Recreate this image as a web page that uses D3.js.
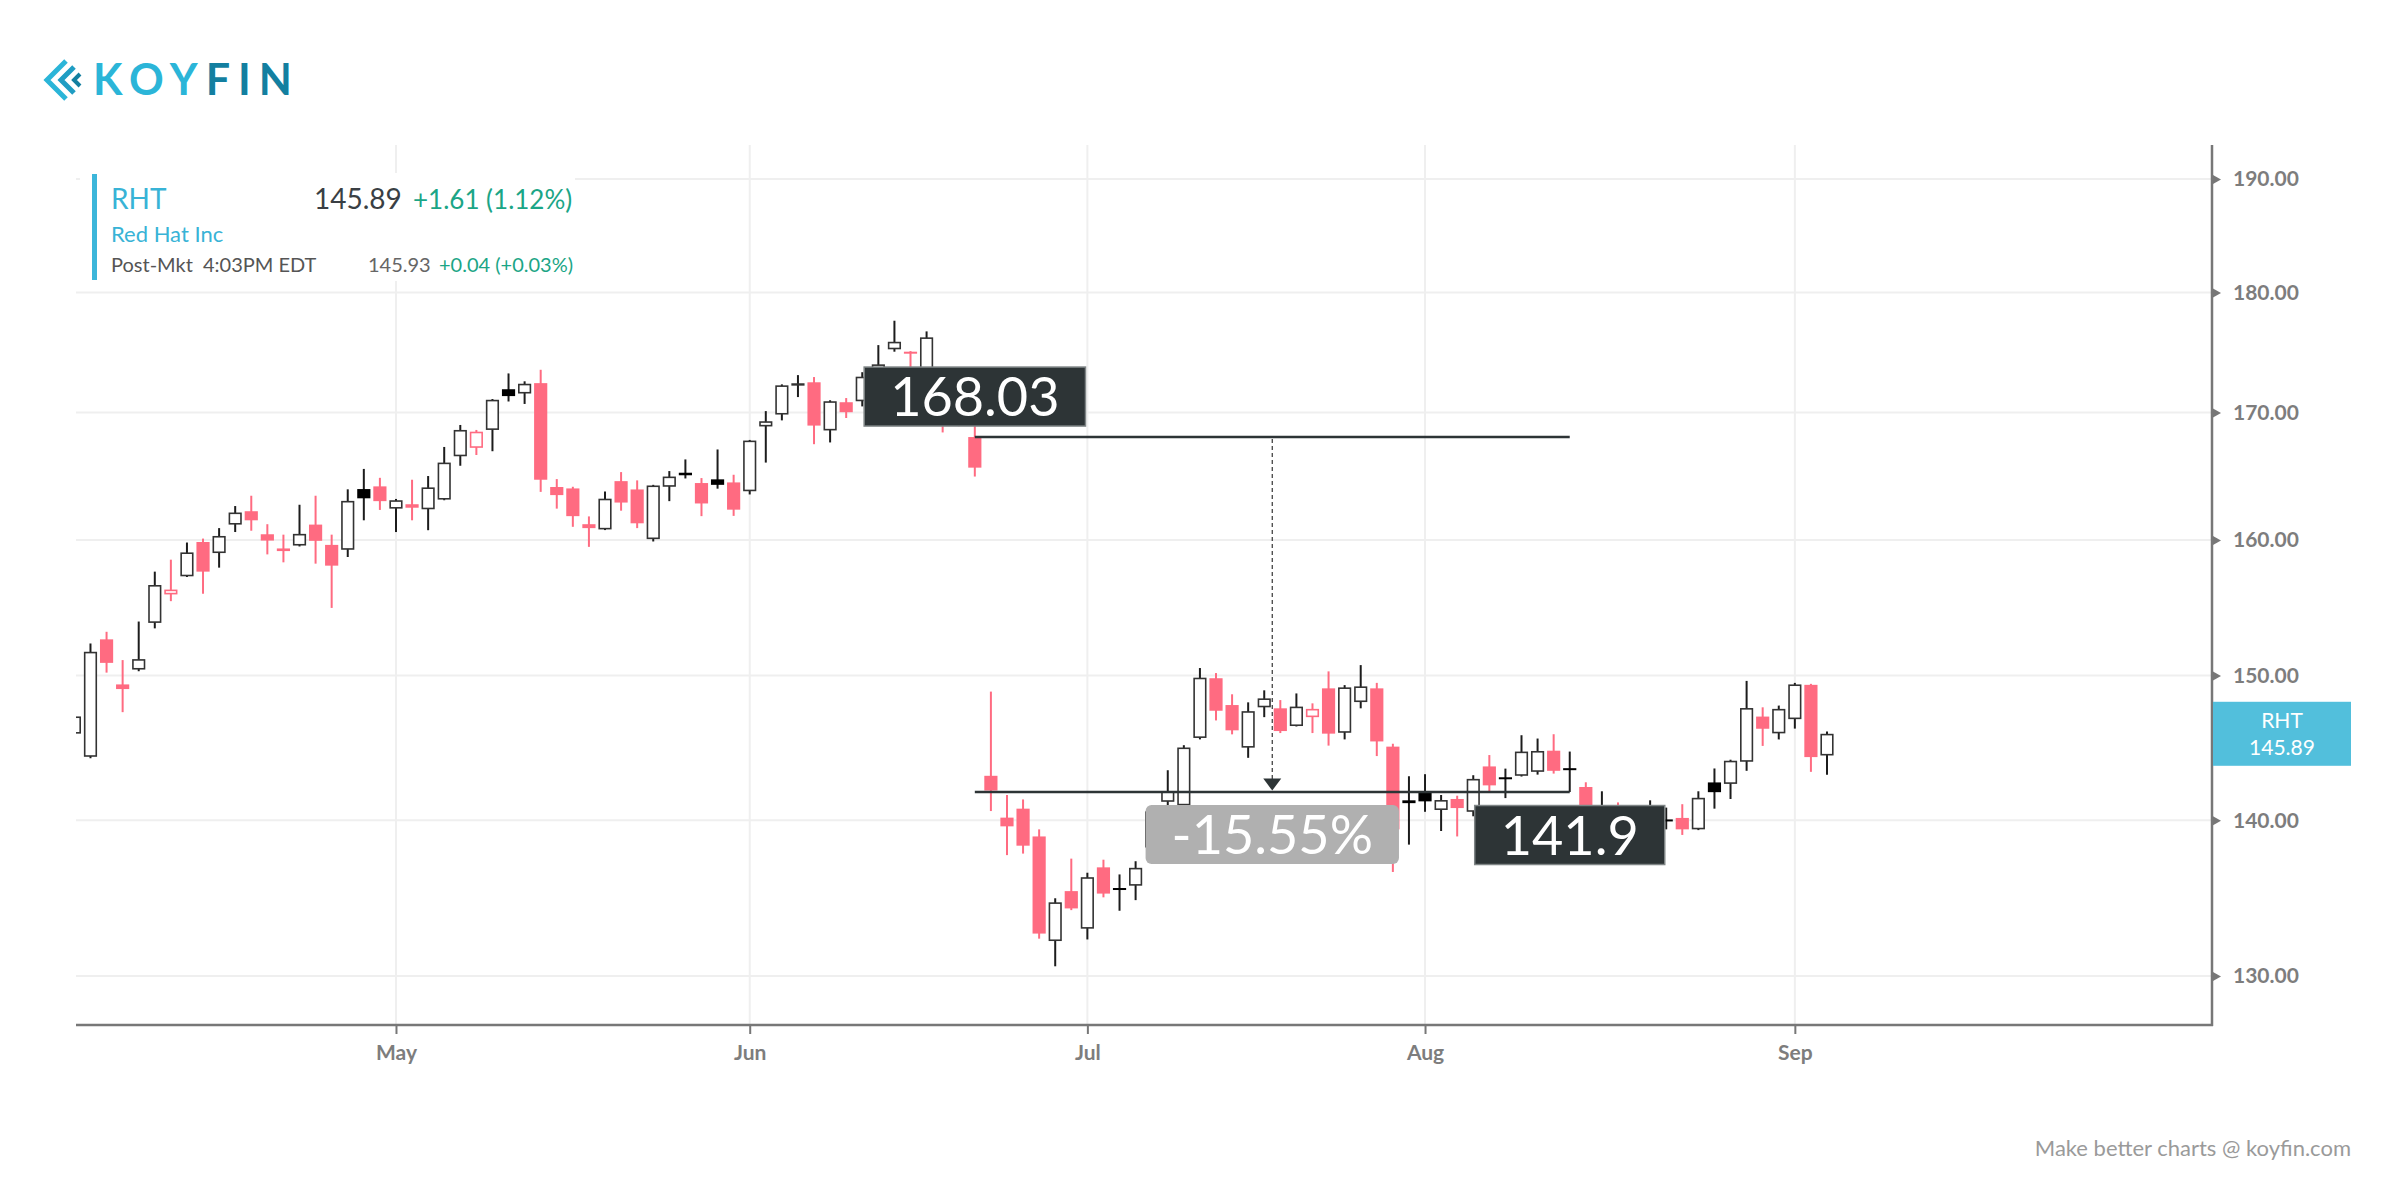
<!DOCTYPE html>
<html lang="en">
<head>
<meta charset="utf-8">
<style>
  body { margin: 0; background: #fff; }
  svg { font-family: Lato, "Open Sans", sans-serif; background: #fff; }
  .grid line { stroke: #efefef; stroke-width: 2px; }
  .axis text { fill: #7d7d7d; font-size: 21px; font-weight: bold; font-family: Lato, sans-serif; }
</style>
<script src="https://d3js.org/d3.v7.min.js"></script>
</head>
<body>
<script>
var width = 2400, height = 1200;
var plot = {left: 76, right: 2212, top: 145, bottom: 1025};

// trading days shown (NYSE, Apr 3 - Sep 6 2018)
var startDay = "2018-04-03", endDay = "2018-09-06";
var holidays = ["2018-05-28", "2018-07-04", "2018-09-03"];

var open = [145.9,144.3,152.6,149.36,150.42,153.8,155.9,157.25,159.84,159.0,
  161.17,162.2,160.43,159.35,159.57,161.17,159.62,159.25,163.92,164.13,
  162.4,162.74,162.35,163.1,166.5,167.17,168.6,171.9,171.55,172.4,
  164.08,163.97,161.2,160.8,164.54,163.89,160.06,164.1,165.2,164.39,
  164.68,164.44,163.75,168.88,169.84,172.25,172.47,168.56,170.84,170.92,
  172.6,175.2,175.0,173.2,173.0,171.2,168.03,143.0,140.18,140.78,
  138.93,132.18,135.36,132.96,136.9,135.56,135.71,138.2,141.24,141.0,
  145.6,149.8,147.9,144.93,147.74,147.67,146.43,147.05,149.08,145.96,
  148.11,149.08,145.0,141.34,141.84,140.69,141.43,140.57,143.64,142.9,
  143.0,143.27,144.72,143.52,142.24,141.0,140.8,140.2,140.8,140.06,
  140.16,139.4,142.55,142.45,143.96,147.09,145.92,146.91,149.33,144.39];
var high = [147.5,152.3,153.15,151.1,153.9,157.6,158.5,159.8,160.1,160.9,
  162.6,163.4,161.2,160.4,162.7,163.4,160.4,163.9,165.5,164.8,
  163.15,164.65,164.94,167.24,169.0,168.6,171.1,173.2,172.55,173.5,
  164.7,164.1,161.8,163.73,165.25,164.6,164.25,165.33,166.25,164.78,
  167.04,165.04,167.8,170.12,172.3,173.06,172.9,171.0,171.18,173.3,
  175.55,177.6,175.05,176.7,173.5,172.5,169.2,148.85,141.7,141.4,
  139.4,134.9,137.47,136.55,137.4,136.44,137.3,140.9,143.38,145.1,
  150.53,150.17,148.66,148.09,148.94,148.25,148.72,148.02,150.29,149.31,
  150.74,149.47,145.2,142.97,143.11,141.7,141.65,143.04,144.42,143.49,
  145.79,145.56,145.86,144.66,142.56,141.95,141.2,140.6,141.34,140.85,
  141.08,141.95,143.5,144.1,149.61,147.74,147.86,149.47,149.4,146.05];
var low = [145.5,144.2,150.2,147.4,150.3,153.4,155.4,157.2,155.95,157.9,
  160.6,160.7,158.9,158.3,159.5,158.2,154.9,158.7,161.5,162.3,
  160.6,161.5,160.74,163.05,165.75,166.6,166.9,170.9,170.7,163.7,
  162.4,161.0,159.47,160.75,162.24,160.9,159.88,162.98,164.75,161.82,
  163.95,161.84,163.5,166.0,169.37,171.26,167.46,167.6,169.56,170.5,
  172.3,175.0,173.0,172.8,168.4,168.9,164.9,140.62,137.7,137.8,
  132.33,130.6,134.14,132.28,134.96,134.1,134.78,137.8,140.8,140.6,
  145.5,146.82,145.85,144.23,147.05,145.94,146.4,145.94,145.07,145.5,
  147.67,144.35,136.6,138.39,140.57,139.29,138.93,140.27,141.89,141.49,
  142.95,143.08,143.15,141.9,140.2,140.0,139.6,139.4,139.5,139.4,
  139.03,139.35,140.78,141.43,143.34,145.05,145.5,146.25,143.27,143.08];
var close = [147.1,151.7,150.9,149.03,151.17,156.6,156.26,159.05,157.6,160.3,
  162.1,161.5,159.95,159.15,160.46,159.93,158.05,163.0,163.2,162.98,
  163.05,162.47,164.05,166.0,168.6,168.46,171.04,171.34,172.35,164.65,
  163.45,161.82,160.9,163.17,162.87,161.27,164.2,164.9,165.0,162.8,
  164.25,162.32,167.75,169.3,172.22,172.39,168.95,170.92,170.03,172.93,
  173.95,175.83,174.95,176.2,170.5,169.8,165.6,142.0,139.6,138.32,
  132.65,134.64,134.25,136.26,135.2,135.47,136.87,140.6,141.96,144.94,
  149.84,147.5,146.13,147.47,148.37,146.08,147.79,147.63,145.9,149.15,
  149.22,145.36,139.4,141.15,141.27,141.36,140.82,142.79,142.35,142.86,
  144.66,144.7,143.34,143.49,140.6,140.7,140.0,139.7,139.9,140.04,
  139.4,141.51,141.89,144.03,147.69,146.24,147.63,149.36,144.28,145.89];

var yTicks = [130, 140, 150, 160, 170, 180, 190];
var monthTicks = ["May", "Jun", "Jul", "Aug", "Sep"];

// measure annotation
var measureFrom = "2018-06-21", measureTo = "2018-08-14";
var fromPrice = 168.03, toPrice = 141.9;

var ticker = "RHT", company = "Red Hat Inc";
var lastPrice = 145.89, change = "+1.61 (1.12%)";
var postPrice = "145.93", postChange = "+0.04 (+0.03%)", postTime = "4:03PM EDT";

var red = "#ff6b81", dark = "#1c1c1c", ink = "#2d3436";

var parse = d3.utcParse("%Y-%m-%d"), fmt = d3.utcFormat("%Y-%m-%d"), mon = d3.utcFormat("%b");
var days = d3.utcDay.range(parse(startDay), d3.utcDay.offset(parse(endDay), 1))
  .filter(function(d) { return d.getUTCDay() % 6 !== 0 && holidays.indexOf(fmt(d)) < 0; });

var data = days.map(function(d, i) {
  return {i: i, date: d, o: open[i], h: high[i], l: low[i], c: close[i],
          pc: i ? close[i - 1] : open[i]};
});

var monthIdx = monthTicks.map(function(m) {
  return days.findIndex(function(d) { return mon(d) === m; });
});

var x = d3.scaleLinear().domain([0, days.length - 1]).range([74.4, 1827]);
var y = d3.scaleLog().domain([127.0, 193.1]).range([plot.bottom, plot.top]);
var step = x(1) - x(0), bw = step * 0.82;

var svg = d3.select("body").append("svg")
  .attr("width", width).attr("height", height);

svg.append("clipPath").attr("id", "clip").append("rect")
  .attr("x", plot.left).attr("y", plot.top)
  .attr("width", plot.right - plot.left).attr("height", plot.bottom - plot.top);

// logo
var logo = svg.append("g").attr("fill", "none").attr("stroke-linejoin", "miter");
logo.append("path").attr("d", "M66,61 L47,80 L66,99").attr("stroke", "#2bb5d8").attr("stroke-width", 5);
logo.append("path").attr("d", "M74,67 L61,80 L74,93").attr("stroke", "#1f9dc3").attr("stroke-width", 5);
logo.append("path").attr("d", "M80,74 L74,80 L80,86").attr("stroke", "#137fa0").attr("stroke-width", 4);
var lt = svg.append("text").attr("x", 93).attr("y", 95)
  .style("font-size", "43px").style("font-weight", "bold").style("letter-spacing", "8px");
lt.append("tspan").attr("fill", "#2bb5d8").text("KOY");
lt.append("tspan").attr("fill", "#137fa0").text("FIN");

// grid
var grid = svg.append("g").attr("class", "grid");
grid.selectAll(".v").data(monthIdx).enter().append("line").attr("class", "v")
  .attr("x1", function(d) { return x(d); }).attr("x2", function(d) { return x(d); })
  .attr("y1", plot.top).attr("y2", plot.bottom);

// info box
var info = svg.append("g");
info.append("rect").attr("x", 80).attr("y", 173).attr("width", 495).attr("height", 108).attr("fill", "#fff");
info.append("rect").attr("x", 92).attr("y", 174).attr("width", 5).attr("height", 106).attr("fill", "#3cb6da");
info.append("text").attr("x", 111).attr("y", 209).attr("fill", "#38b3d6").style("font-size", "28px").text(ticker);
info.append("text").attr("x", 314).attr("y", 209).attr("fill", "#3a3f44").style("font-size", "28px").text(lastPrice.toFixed(2));
info.append("text").attr("x", 413).attr("y", 209).attr("fill", "#1ba586").style("font-size", "26px").text(change);
info.append("text").attr("x", 111).attr("y", 242).attr("fill", "#38b3d6").style("font-size", "22px").text(company);
info.append("text").attr("x", 111).attr("y", 272).attr("fill", "#555").style("font-size", "20px").text("Post-Mkt");
info.append("text").attr("x", 203).attr("y", 272).attr("fill", "#555").style("font-size", "20px").text(postTime);
info.append("text").attr("x", 368).attr("y", 272).attr("fill", "#666").style("font-size", "20px").text(postPrice);
info.append("text").attr("x", 439).attr("y", 272).attr("fill", "#1ba586").style("font-size", "20px").text(postChange);

grid.raise();
grid.selectAll(".h").data(yTicks).enter().append("line").attr("class", "h")
  .attr("x1", plot.left).attr("x2", plot.right)
  .attr("y1", function(d) { return y(d); }).attr("y2", function(d) { return y(d); });
info.raise();

// candles
var cg = svg.append("g").attr("clip-path", "url(#clip)");
var candle = cg.selectAll("g.candle").data(data).enter().append("g").attr("class", "candle");

function col(d) { return d.c >= d.pc ? dark : red; }

candle.append("line")
  .attr("x1", function(d) { return x(d.i); }).attr("x2", function(d) { return x(d.i); })
  .attr("y1", function(d) { return y(d.h); }).attr("y2", function(d) { return y(d.l); })
  .attr("stroke", col).attr("stroke-width", 2);

candle.append("rect")
  .attr("x", function(d) { return x(d.i) - bw / 2 + (d.c < d.o ? 0 : 0.8); })
  .attr("width", function(d) { return d.c < d.o ? bw : bw - 1.6; })
  .attr("y", function(d) { return y(Math.max(d.o, d.c)) + (d.c < d.o ? 0 : 0.8); })
  .attr("height", function(d) {
    var h = Math.abs(y(d.o) - y(d.c));
    return d.c < d.o ? Math.max(h, 2) : Math.max(h - 1.6, 0.8);
  })
  .attr("fill", function(d) { return d.c < d.o ? (d.c >= d.pc ? "#000" : red) : "#fff"; })
  .attr("stroke", function(d) { return d.c < d.o ? "none" : (d.c >= d.pc ? "#333" : red); })
  .attr("stroke-width", 1.6);

// measure annotation
var i0 = days.findIndex(function(d) { return fmt(d) === measureFrom; });
var i1 = days.findIndex(function(d) { return fmt(d) === measureTo; });
var xa = x(i0), xb = x(i1), xm = (xa + xb) / 2;
var ya = y(fromPrice), yb = y(toPrice);
var ann = svg.append("g");
ann.append("line").attr("x1", xa).attr("x2", xb).attr("y1", ya).attr("y2", ya)
  .attr("stroke", ink).attr("stroke-width", 2.5);
ann.append("line").attr("x1", xa).attr("x2", xb).attr("y1", yb).attr("y2", yb)
  .attr("stroke", ink).attr("stroke-width", 2.5);
ann.append("line").attr("x1", xm).attr("x2", xm).attr("y1", ya + 2).attr("y2", yb - 13)
  .attr("stroke", "#444").attr("stroke-width", 1.3).attr("stroke-dasharray", "4,3");
ann.append("path")
  .attr("d", "M" + (xm - 9) + "," + (yb - 13.5) + "L" + (xm + 9) + "," + (yb - 13.5) + "L" + xm + "," + (yb - 1.5) + "Z")
  .attr("fill", ink);

function tag(cx, top, txt, fill, stroke, rx) {
  var g = ann.append("g");
  var r = g.append("rect");
  var t = g.append("text").attr("x", cx).attr("y", top + 29.5 + 19.5)
    .attr("text-anchor", "middle").attr("fill", "#fff")
    .style("font-size", "54px").text(txt);
  var w = t.node().getComputedTextLength() + 52;
  r.attr("x", cx - w / 2).attr("y", top).attr("width", w).attr("height", 59)
    .attr("rx", rx).attr("fill", fill)
    .attr("stroke", stroke).attr("stroke-width", stroke === "none" ? 0 : 1.5);
}
var pct = ((toPrice / fromPrice - 1) * 100).toFixed(2) + "%";
tag(xa, ya - 70, fromPrice.toFixed(2), ink, "#7f8586", 0);
tag(xb, yb + 13.5, String(toPrice), ink, "#7f8586", 0);
tag(xm, yb + 13, pct, "#b0b0b0", "none", 6);

// axes
var ax = svg.append("g").attr("class", "axis").attr("transform", "translate(0," + plot.bottom + ")")
  .call(d3.axisBottom(x).tickValues(monthIdx).tickSize(9).tickPadding(11)
    .tickFormat(function(d, k) { return monthTicks[k]; }));
ax.select(".domain").remove();
ax.selectAll(".tick line").attr("stroke", "#777").attr("stroke-width", 2);
svg.append("line").attr("x1", plot.left).attr("x2", plot.right + 1)
  .attr("y1", plot.bottom).attr("y2", plot.bottom).attr("stroke", "#777").attr("stroke-width", 2.5);

var ay = svg.append("g").attr("class", "axis").attr("transform", "translate(" + plot.right + ",0)")
  .call(d3.axisRight(y).tickValues(yTicks).tickSize(0).tickPadding(21).tickFormat(d3.format(".2f")));
ay.select(".domain").remove();
ay.selectAll(".tick").append("path").attr("d", "M1,-4.5L9,0L1,4.5Z").attr("fill", "#777");
svg.append("line").attr("x1", plot.right).attr("x2", plot.right)
  .attr("y1", plot.top).attr("y2", plot.bottom + 1).attr("stroke", "#777").attr("stroke-width", 2.5);

// last price tag
var yl = y(lastPrice);
svg.append("rect").attr("x", plot.right + 1).attr("y", yl - 32).attr("width", 138).attr("height", 64)
  .attr("fill", "#52bfdc");
svg.append("text").attr("x", plot.right + 70).attr("y", yl - 6).attr("text-anchor", "middle")
  .attr("fill", "#fff").style("font-size", "21px").text(ticker);
svg.append("text").attr("x", plot.right + 70).attr("y", yl + 21).attr("text-anchor", "middle")
  .attr("fill", "#fff").style("font-size", "21px").text(lastPrice.toFixed(2));

// footer
svg.append("text").attr("x", 2351).attr("y", 1156).attr("text-anchor", "end")
  .attr("fill", "#9a9a9a").style("font-size", "22px").text("Make better charts @ koyfin.com");
</script>
</body>
</html>
